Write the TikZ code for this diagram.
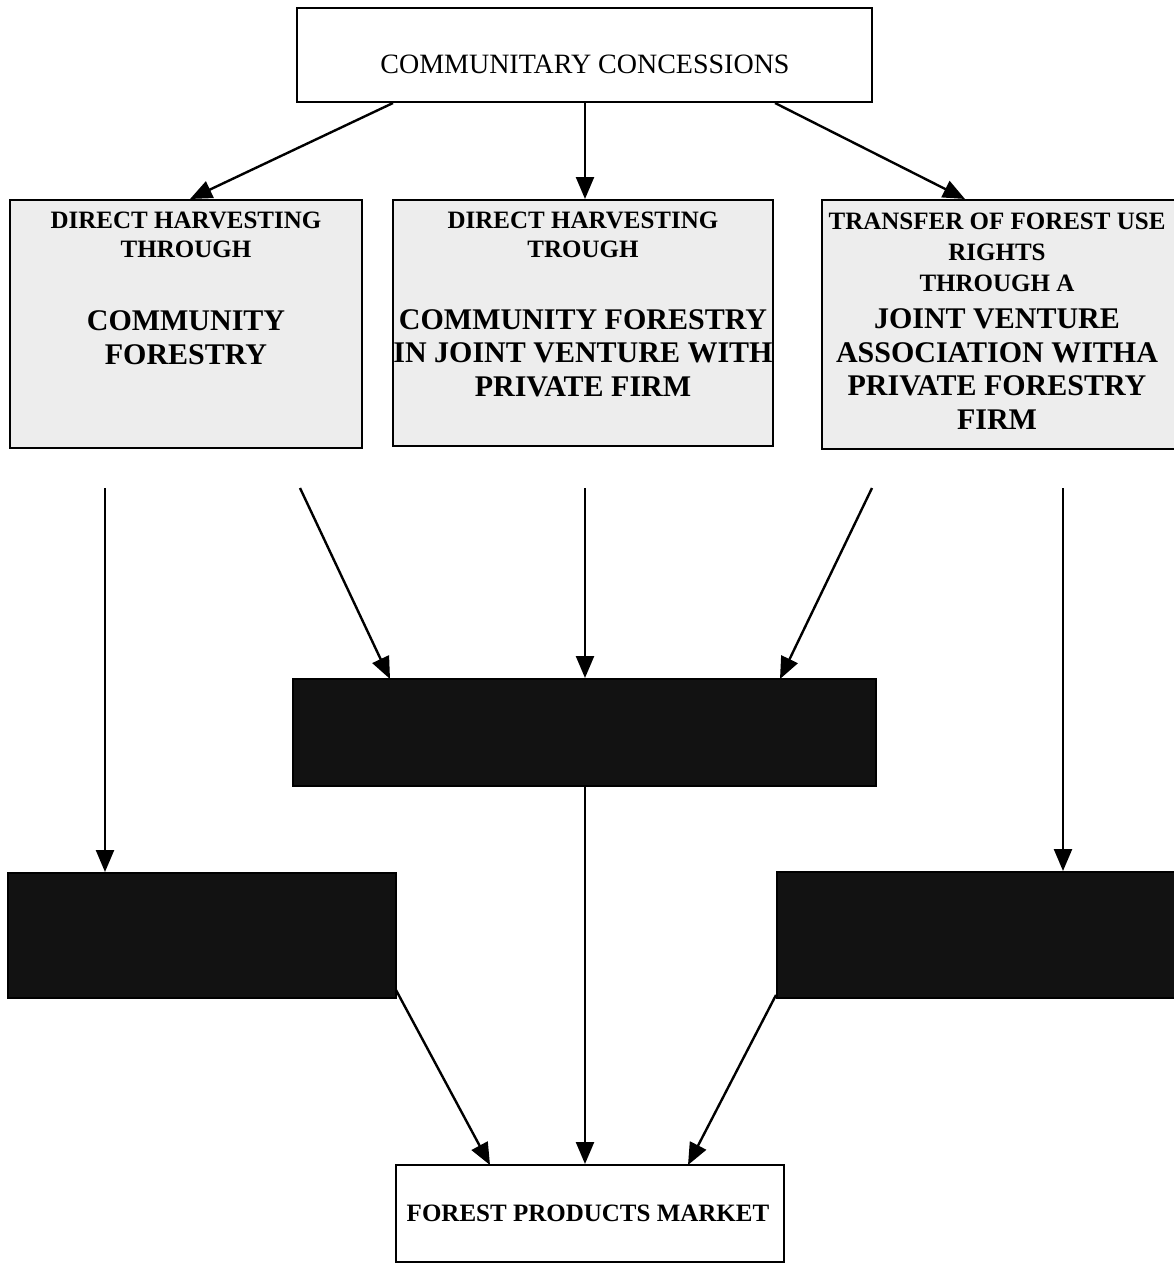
\documentclass[tikz,border=0pt]{standalone}
\usepackage{fontspec}
\setmainfont{Liberation Serif}
\usetikzlibrary{arrows.meta}
\begin{document}
\begin{tikzpicture}[x=0.5pt,y=-0.5pt,
  frame/.style={draw=black,line width=1pt},
  lightbox/.style={frame,fill=black!7},
  darkbox/.style={frame,fill=black!93},
  conn/.style={line width=1.2pt,-{Triangle[length=11pt,width=9pt]}},
  small/.style={font=\bfseries\fontsize{12.5}{14.5}\selectfont,align=center},
  big/.style={font=\bfseries\fontsize{15}{16.8}\selectfont,align=center}]
\useasboundingbox (0,0) rectangle (1173,1264);
% boxes
\node[frame,fill=white,minimum width=287.5pt,minimum height=47pt,inner sep=0pt] (top) at (584.5,55) {};
\node[font=\fontsize{14}{16}\selectfont] (toptxt) at (585,64) {COMMUNITARY CONCESSIONS};
\node[lightbox,minimum width=176pt,minimum height=124pt,inner sep=0pt] (A) at (186,324) {};
\node[lightbox,minimum width=190pt,minimum height=123pt,inner sep=0pt] (B) at (583,323) {};
\node[lightbox,minimum width=177pt,minimum height=124.5pt,inner sep=0pt] (C) at (999,324.5) {};
\node[darkbox,minimum width=291.5pt,minimum height=53.5pt,inner sep=0pt] (D) at (584.5,732.5) {};
\node[darkbox,minimum width=194pt,minimum height=62.5pt,inner sep=0pt] (L) at (202,935.5) {};
\node[darkbox,minimum width=199pt,minimum height=63pt,inner sep=0pt] (R) at (975.5,935) {};
\node[frame,fill=white,minimum width=194pt,minimum height=48.5pt,inner sep=0pt] (M) at (590,1213.5) {};
\node[font=\bfseries\fontsize{12.5}{14}\selectfont] (mtxt) at (588,1213) {FOREST PRODUCTS MARKET};
% texts
\node[small] (A1) at (186,235) {DIRECT HARVESTING\\THROUGH};
\node[big] (A2) at (186,338) {COMMUNITY\\FORESTRY};
\node[small] (B1) at (583,235) {DIRECT HARVESTING\\TROUGH};
\node[big] (B2) at (583,353) {COMMUNITY FORESTRY\\IN JOINT VENTURE WITH\\PRIVATE FIRM};
\node[small,font=\bfseries\fontsize{12.5}{15.5}\selectfont] (C1) at (997,252) {TRANSFER OF FOREST USE\\RIGHTS\\THROUGH A};
\node[big] (C2) at (997,369) {JOINT VENTURE\\ASSOCIATION WITHA\\PRIVATE FORESTRY\\FIRM};
% free starts
\coordinate (s1) at (105,488);
\coordinate (s2) at (300,488);
\coordinate (s3) at (585,488);
\coordinate (s4) at (872,488);
\coordinate (s5) at (1063,488);
% connectors
\draw[conn] (393,103) -- (A.north -| 190,0);
\draw[conn] (top.south -| 585,0) -- (B.north -| 585,0);
\draw[conn] (775,103) -- (C.north -| 965,0);
\draw[conn] (s1) -- (L.north -| s1);
\draw[conn] (s2) -- (390,679);
\draw[conn] (s3) -- (D.north -| s3);
\draw[conn] (s4) -- (780,679);
\draw[conn] (s5) -- (R.north -| s5);
\draw[conn] (D.south -| 585,0) -- (M.north -| 585,0);
\draw[conn] (396,990) -- (490,1165);
\draw[conn] (776,995) -- (688,1165);
\end{tikzpicture}
\end{document}
